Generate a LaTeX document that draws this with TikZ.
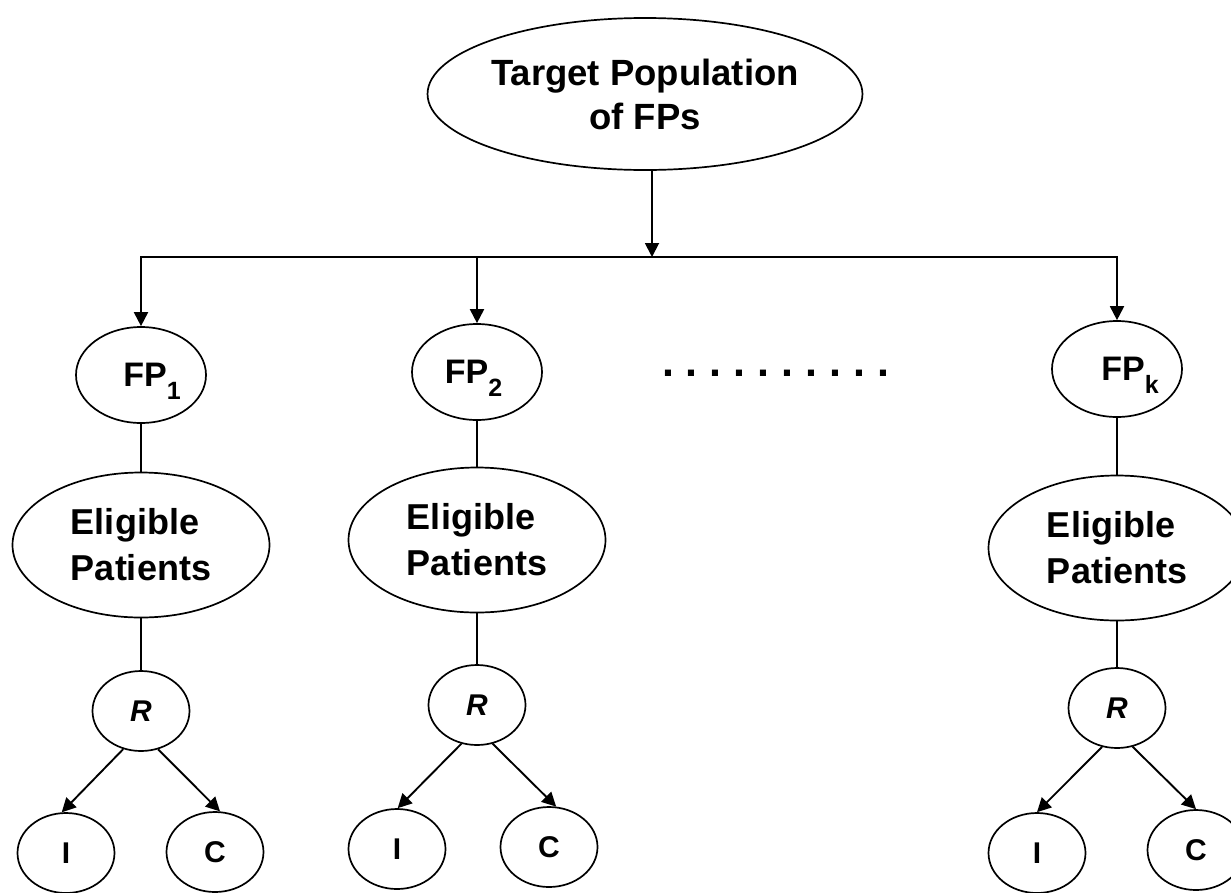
\documentclass[tikz,border=0pt]{standalone}
\usepackage{fontspec}
\setmainfont{Liberation Sans}
\usetikzlibrary{shapes.geometric,arrows.meta}
\newcommand\subnum[1]{\raisebox{-13pt}{\fontsize{25}{25}\selectfont #1}}
\frenchspacing
\begin{document}
\begin{tikzpicture}[x=1pt,y=-1pt,
  box/.style={ellipse,draw,line width=1.7pt,inner sep=0pt},
  big/.style={box,minimum width=434pt,minimum height=152pt,align=center,font=\bfseries\fontsize{36.5}{44}\selectfont},
  fp/.style={box,minimum width=130pt,minimum height=96pt,text height=35pt,text depth=13pt,font=\bfseries\fontsize{34}{34}\selectfont},
  elig/.style={box,minimum width=257pt,minimum height=145pt,align=left,font=\bfseries\fontsize{36}{46}\selectfont},
  rnd/.style={box,minimum width=97pt,minimum height=80pt,font=\bfseries\itshape\fontsize{30}{30}\selectfont},
  arm/.style={box,minimum width=97pt,minimum height=80pt,font=\bfseries\fontsize{30}{30}\selectfont},
  ln/.style={line width=1.9pt},
  arr/.style={ln,-{Triangle[length=14pt,width=14pt]}}]
\useasboundingbox (0,0) rectangle (1231,892);
\fill[white] (0,0) rectangle (1231,892);

% top
\node[big] (top) at (645,94) {Target Population\\of FPs};
\coordinate (hub) at (652,257);

% FP nodes
\node[fp] (fp1) at (141,375) {\hspace*{22pt}FP\subnum{1}};
\node[fp] (fp2) at (477,372) {FP\subnum{2}\hspace*{7pt}};
\node[fp] (fpk) at (1117,369) {\hspace*{26pt}FP\subnum{k}};

\node[font=\bfseries\fontsize{43}{43}\selectfont,anchor=base,inner sep=0pt] (dots) at (775.5,376) {. . . . . . . . . .};

% Eligible
\node[elig] (el1) at (141,545) {Eligible\\Patients};
\node[elig] (el2) at (477,540) {Eligible\\Patients};
\node[elig] (elk) at (1117,548) {Eligible\\Patients};

% R
\node[rnd] (r1) at (141,711) {R};
\node[rnd] (r2) at (477,705) {R};
\node[rnd] (rk) at (1117,708) {R};

% I and C
\node[arm] (i1) at (66,853) {I};
\node[arm] (c1) at (215,852) {C};
\node[arm] (i2) at (397,849) {I};
\node[arm] (c2) at (549,847) {C};
\node[arm] (ik) at (1037,853) {I};
\node[arm] (ck) at (1196,850) {C};

% connectors
\draw[arr] (top.south -| hub) -- (hub);
\draw[arr] (hub) -| (fp1.north);
\draw[arr] (hub) -| (fpk.north);
\coordinate (h2) at (fp2.north |- hub);
\draw[arr] (h2) -- (fp2.north);

\draw[ln] (fp1.south) -- (el1.north);
\draw[ln] (fp2.south) -- (el2.north);
\draw[ln] (fpk.south) -- (elk.north);
\draw[ln] (el1.south) -- (r1.north);
\draw[ln] (el2.south) -- (r2.north);
\draw[ln] (elk.south) -- (rk.north);

\draw[arr] (r1.245) -- (i1.96);
\draw[arr] (r1.294) -- (c1.83);
\draw[arr] (r2.248) -- (i2.89);
\draw[arr] (r2.292) -- (c2.80);
\draw[arr] (rk.249) -- (ik.90);
\draw[arr] (rk.292) -- (ck.90);
\end{tikzpicture}
\end{document}
